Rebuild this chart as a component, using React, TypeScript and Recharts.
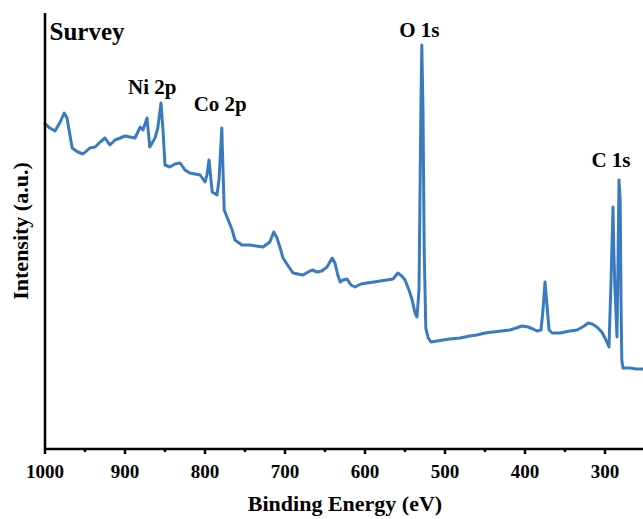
import { LineChart, Line, XAxis, YAxis, ReferenceDot } from "recharts";

// binding energy (eV)
const energy = [
  1000, 994, 987.5, 981, 976, 972.5, 966, 959, 952.5, 944, 937.5, 931, 925, 919, 912.5, 906, 900,
  894, 887.5, 881, 877.5, 872.5, 869, 862.5, 859, 855, 852.5, 850, 844, 837.5, 831, 825, 819,
  812.5, 806, 800, 797.5, 795, 792.5, 791, 785, 782.5, 779, 777.5, 776, 771, 766, 762.5, 754, 744,
  736, 727.5, 719, 714, 710, 706, 702.5, 696, 690, 684, 677.5, 671, 666, 660, 654, 647.5, 641,
  637.5, 634, 631, 627.5, 622.5, 617.5, 612.5, 605, 597.5, 589, 581, 572.5, 565, 559, 554, 550,
  545, 541, 537.5, 535, 532.5, 530, 529, 527.5, 526, 524, 521, 517.5, 510, 502.5, 494, 481, 469,
  460, 450, 440, 429, 419, 411, 404, 396, 390, 385, 380, 377.5, 375, 372.5, 370, 366, 356, 344,
  335, 326, 321, 316, 310, 304, 300, 296, 295, 294, 292.5, 290, 289, 287.5, 285, 284, 282.5, 281,
  280, 279, 277.5, 269, 261, 252.5,
];

// intensity (a.u.)
const intensity = [
  325, 321, 318, 327, 336, 331, 301, 297, 295, 301, 302, 307, 311, 304, 309, 311, 313,
  312, 311, 322, 319, 331, 302, 311, 321, 346, 319, 284, 282, 285, 286, 279, 276,
  275, 274, 267, 274, 289, 269, 257, 254, 269, 321, 279, 239, 229, 219, 209, 204, 204,
  203, 202, 207, 217, 211, 201, 191, 183, 176, 175, 174, 177, 179, 177, 178, 182, 191,
  186, 174, 167, 169, 170, 164, 162, 165, 166, 167, 168, 169, 170, 176, 173, 169,
  159, 149, 136, 132, 159, 349, 404, 339, 199, 121, 111, 107, 108, 109, 110, 111, 113,
  114, 116, 117, 118, 119, 121, 123, 122, 120, 118, 119, 139, 167, 144, 119, 116, 116, 118,
  119, 123, 126, 125, 122, 117, 111, 104, 102, 129, 166, 242, 199, 159, 112, 169, 269, 249,
  149, 89, 81, 81, 80, 80,
];

const xTicks = [1000, 950, 900, 850, 800, 750, 700, 650, 600, 550, 500, 450, 400, 350, 300];

const peakLabels = ["Survey", "Ni 2p", "Co 2p", "O 1s", "C 1s"];
const peakX = [947.5, 866, 781, 532, 292.5];
const peakY = [409, 355, 338, 412, 282];
const peakSize = [25, 21, 21, 21, 21];

const data = energy.map((e, i) => ({ e, v: intensity[i] }));

const FONT = '"Liberation Serif", "Times New Roman", serif';
const BLUE = "#3a7bbd";

const XTick = (props: any) => {
  const { x, y, payload } = props;
  const major = payload.value % 100 === 0;
  return (
    <g>
      <line x1={x} x2={x} y1={y} y2={y + (major ? 5 : 3)} stroke="#000" strokeWidth={2.5} />
      {major && (
        <text
          x={x}
          y={y + 29}
          textAnchor="middle"
          fontFamily={FONT}
          fontWeight="bold"
          fontSize={19}
          fill="#000"
        >
          {payload.value}
        </text>
      )}
    </g>
  );
};

export default function App() {
  return (
    <div
      style={{
        position: "absolute",
        left: 0,
        top: 0,
        width: 643,
        height: 519,
        overflow: "hidden",
        background: "#fff",
      }}
    >
      <LineChart
        width={650}
        height={519}
        data={data}
        margin={{ top: 13, right: 5, left: 0, bottom: 0 }}
      >
        <XAxis
          xAxisId="top"
          orientation="top"
          dataKey="e"
          type="number"
          domain={[250, 1000]}
          reversed
          height={0}
          tick={false}
          tickLine={false}
          axisLine={{ stroke: "#000", strokeWidth: 2.5 }}
        />
        <XAxis
          dataKey="e"
          type="number"
          domain={[250, 1000]}
          reversed
          ticks={xTicks}
          interval={0}
          height={70}
          tickSize={0}
          tickMargin={0}
          tickLine={false}
          tick={<XTick />}
          axisLine={{ stroke: "#000", strokeWidth: 2.5 }}
          label={(p: any) => (
            <text
              x={p.viewBox.x + p.viewBox.width / 2}
              y={p.viewBox.y + 62}
              textAnchor="middle"
              fontFamily={FONT}
              fontWeight="bold"
              fontSize={22}
              fill="#000"
            >
              Binding Energy (eV)
            </text>
          )}
        />
        <YAxis
          type="number"
          domain={[0, 436]}
          width={45}
          tick={false}
          tickLine={false}
          axisLine={{ stroke: "#000", strokeWidth: 2.5 }}
          label={(p: any) => {
            const cx = p.viewBox.x + 28;
            const cy = p.viewBox.y + p.viewBox.height / 2;
            return (
              <text
                x={cx}
                y={cy}
                transform={`rotate(-90, ${cx}, ${cy})`}
                textAnchor="middle"
                fontFamily={FONT}
                fontWeight="bold"
                fontSize={22}
                fill="#000"
              >
                Intensity (a.u.)
              </text>
            );
          }}
        />
        <Line
          xAxisId={0}
          type="linear"
          dataKey="v"
          stroke={BLUE}
          strokeWidth={3}
          strokeLinejoin="round"
          strokeLinecap="round"
          dot={false}
          isAnimationActive={false}
        />
        {peakLabels.map((t, i) => (
          <ReferenceDot
            key={t}
            xAxisId={0}
            x={peakX[i]}
            y={peakY[i]}
            r={0}
            shape={(p: any) => (
              <text
                x={p.cx}
                y={p.cy}
                textAnchor="middle"
                fontFamily={FONT}
                fontWeight="bold"
                fontSize={peakSize[i]}
                fill="#000"
              >
                {t}
              </text>
            )}
          />
        ))}
      </LineChart>
    </div>
  );
}
